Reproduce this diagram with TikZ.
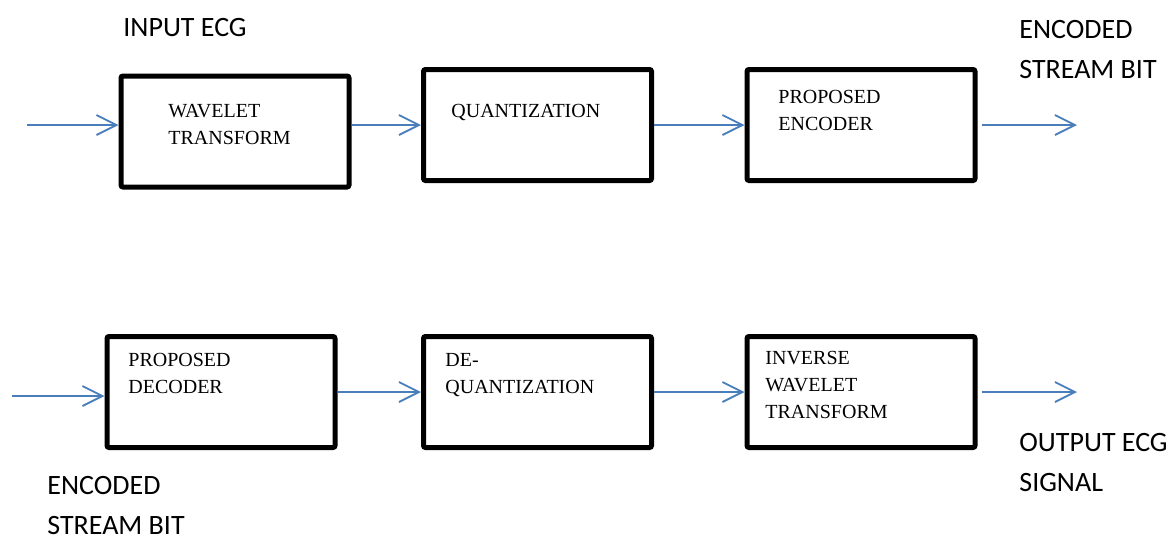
\documentclass[tikz,border=0pt]{standalone}
\usepackage{xcolor}
\usepackage{fontspec}
\setmainfont{Liberation Serif}
\newfontfamily\labelfont{Carlito}
\usepackage{tikz}
\usetikzlibrary{arrows.meta}
\usetikzlibrary{positioning}
\definecolor{flowblue}{RGB}{74,126,187}
\tikzset{>={Straight Barb[length=10pt,width=10pt]}}
\tikzstyle{block} = [rectangle, draw=black, line width=2.5pt, rounded corners=1pt, minimum width=114pt, minimum height=55.5pt, inner sep=0]
\tikzstyle{flow} = [->, draw=flowblue, line width=0.9pt]
\tikzstyle{boxtxt} = [draw=none, inner sep=0, anchor=north west, align=left, font=\fontsize{10}{13.5}\selectfont]
\tikzstyle{lbl} = [draw=none, inner sep=0, anchor=north west, align=left, font=\labelfont\fontsize{14}{20}\selectfont]

\begin{document}
\begin{tikzpicture}[x=0.5pt, y=-0.5pt]
\useasboundingbox (0, 0) rectangle (1175, 541);
%\node [draw=none] at (600, 270) {coder / decoder chain};
% encoder chain
\node [block] (WT)  at (235, 131.5) {};
\node [block] (Q)   at (537.5, 125) {};
\node [block] (ENC) at (861, 125) {};
\node [boxtxt] (WTtxt)  at (168, 104) {WAVELET\\TRANSFORM};
\node [boxtxt] (Qtxt)   at (451, 104) {QUANTIZATION};
\node [boxtxt] (ENCtxt) at (778, 90) {PROPOSED\\ENCODER};
\node [lbl] (inlbl)  at (123, 18) {INPUT ECG};
\node [lbl] (outlbl) at (1019, 20) {ENCODED\\STREAM BIT};
\coordinate (in1)  at (27, 125);
\coordinate (out1) at (1077, 125);
\draw [flow] (in1) to (in1 -| WT.west);
\draw [flow] (WT.east |- Q.west) to (Q.west);
\draw [flow] (Q.east) to (ENC.west);
\draw [flow, shorten <=2pt] (ENC.east) to (out1);
% decoder chain
\node [block] (DEC) at (221, 392) {};
\node [block] (DQ)  at (537.5, 392) {};
\node [block] (IWT) at (861, 392) {};
\node [boxtxt] (DECtxt) at (128, 353) {PROPOSED\\DECODER};
\node [boxtxt] (DQtxt)  at (445, 353) {DE-\\QUANTIZATION};
\node [boxtxt] (IWTtxt) at (765, 351) {INVERSE\\WAVELET\\TRANSFORM};
\node [lbl] (declbl) at (47, 476) {ENCODED\\STREAM BIT};
\node [lbl] (reclbl) at (1019, 433) {OUTPUT ECG\\SIGNAL};
\coordinate (in2)  at (12, 396);
\coordinate (out2) at (1077, 390);
\draw [flow] (in2) to (in2 -| DEC.west);
\draw [flow] (DEC.east) to (DQ.west);
\draw [flow] (DQ.east) to (IWT.west);
\draw [flow, shorten <=2pt] (IWT.east) to (IWT.east -| out2);
\end{tikzpicture}
\end{document}
